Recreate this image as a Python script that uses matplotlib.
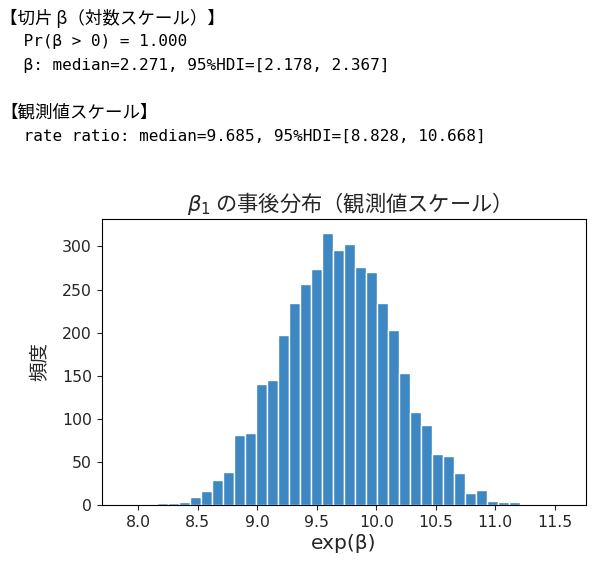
import numpy as np
import matplotlib
matplotlib.use("Agg")
import matplotlib.pyplot as plt

# --- data ---
bin_lo, bin_hi, n_bins = 7.875, 11.575, 40
counts = [1, 0, 0, 2, 2, 3, 9, 16, 29, 38,
          81, 84, 140, 145, 197, 234, 256, 274, 316, 296,
          303, 276, 270, 234, 203, 153, 108, 93, 59, 57,
          37, 14, 17, 5, 4, 3, 0, 0, 0, 1]
xticks = [8.0, 8.5, 9.0, 9.5, 10.0, 10.5, 11.0, 11.5]

summary_lines = [
    ("【切片 β（対数スケール）】", "head"),
    (" Pr(β > 0) = 1.000", "mono"),
    (" β: median=2.271, 95%HDI=[2.178, 2.367]", "mono"),
    ("", "mono"),
    ("【観測値スケール】", "head"),
    (" rate ratio: median=9.685, 95%HDI=[8.828, 10.668]", "mono"),
]

MONO = ["DejaVu Sans Mono", "Noto Sans CJK JP"]
JP = ["Noto Sans CJK JP", "DejaVu Sans"]
LATIN = ["DejaVu Sans", "Noto Sans CJK JP"]
BAR = "#3d88c3"
INK = "#262626"

fig = plt.figure(figsize=(6.01, 5.73), dpi=100)

# notebook-style printed output above the plot
y = 1 - 18 / 573
for text, kind in summary_lines:
    if text:
        if kind == "head":
            fig.text(0.0, y, text, family=JP, fontsize=12.6, color="black",
                     ha="left", va="center")
        else:
            fig.text(14 / 601, y, text, family=MONO, fontsize=11.5,
                     color="black", ha="left", va="center")
    y -= 23.6 / 573

ax = fig.add_axes([0.169, 0.1187, 0.8055, 0.4991])
edges = np.linspace(bin_lo, bin_hi, n_bins + 1)
centers = (edges[:-1] + edges[1:]) / 2
ax.hist(centers, bins=edges, weights=counts, color=BAR, edgecolor="white",
        linewidth=1.0)

ax.set_xticks(xticks)
ax.tick_params(labelsize=11.3, colors=INK)
for lab in ax.get_xticklabels() + ax.get_yticklabels():
    lab.set_family(LATIN)
ax.set_title(r"$\beta_1$ の事後分布（観測値スケール）", family=JP, fontsize=15.3,
             color=INK, pad=6)
ax.set_xlabel("exp(β)", family=LATIN, fontsize=14.5, color=INK, labelpad=3)
ax.set_ylabel("頻度", family=JP, fontsize=14, color=INK, labelpad=8)

fig.savefig("out.png", dpi=100)
